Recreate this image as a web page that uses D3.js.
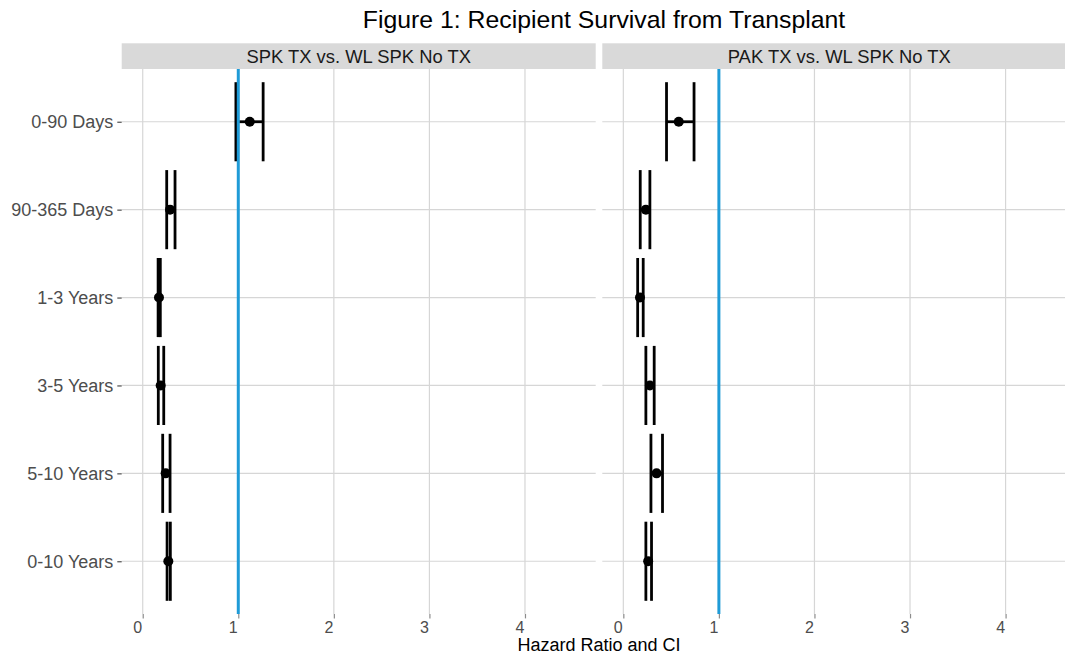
<!DOCTYPE html>
<html>
<head>
<meta charset="utf-8">
<script src="https://cdn.jsdelivr.net/npm/d3@7"></script>
<style>
  body { margin: 0; background: #fff; }
  text { font-family: "Liberation Sans", Arial, sans-serif; }
</style>
</head>
<body>
<svg width="1065" height="656"></svg>
<script>
(function(d3) {
    'use strict';

    // data
    const periods = ['0-90 Days', '90-365 Days', '1-3 Years', '3-5 Years', '5-10 Years', '0-10 Years'];
    const panelNames = ['SPK TX vs. WL SPK No TX', 'PAK TX vs. WL SPK No TX'];
    const spkHR   = [1.12, 0.286, 0.17, 0.188, 0.24, 0.268];
    const spkLow  = [0.975, 0.251, 0.161, 0.163, 0.209, 0.255];
    const spkHigh = [1.26, 0.338, 0.184, 0.22, 0.286, 0.289];
    const pakHR   = [0.58, 0.236, 0.174, 0.278, 0.348, 0.26];
    const pakLow  = [0.452, 0.177, 0.15, 0.236, 0.289, 0.236];
    const pakHigh = [0.74, 0.278, 0.208, 0.323, 0.41, 0.295];
    const xTicks = [0, 1, 2, 3, 4];
    const refLine = 1;

    const panels = [
        { name: panelNames[0], rows: periods.map((p, i) => ({ period: p, hr: spkHR[i], lo: spkLow[i], hi: spkHigh[i] })) },
        { name: panelNames[1], rows: periods.map((p, i) => ({ period: p, hr: pakHR[i], lo: pakLow[i], hi: pakHigh[i] })) }
    ];

    const svg = d3.select('svg');

    const panelW = 474, panelH = 545;
    const panelTop = 69, stripH = 25.7;
    const panelLefts = [121.7, 602.3];

    const x = d3.scaleLinear().domain([-0.22, 4.74]).range([0, panelW]);
    const y = d3.scalePoint().domain(periods).range([0, panelH]).padding(0.6);
    const capH = y.step() * 0.45;

    // title
    svg.append('text')
        .attr('x', 604)
        .attr('y', 28)
        .attr('text-anchor', 'middle')
        .style('font-size', '24.8px')
        .attr('fill', '#000')
        .text('Figure 1: Recipient Survival from Transplant');

    panels.forEach((panel, pi) => {
        const g = svg.append('g')
            .attr('transform', `translate(${panelLefts[pi]},${panelTop})`);

        // strip
        g.append('rect')
            .attr('x', 0)
            .attr('y', -stripH)
            .attr('width', panelW)
            .attr('height', stripH)
            .attr('fill', '#d9d9d9');
        g.append('text')
            .attr('x', panelW / 2)
            .attr('y', -stripH / 2)
            .attr('dy', '0.35em')
            .attr('text-anchor', 'middle')
            .style('font-size', '18.4px')
            .attr('fill', '#1a1a1a')
            .text(panel.name);

        // grid
        g.selectAll('.vgrid').data(xTicks)
            .enter().append('line')
            .attr('class', 'vgrid')
            .attr('x1', d => x(d)).attr('x2', d => x(d))
            .attr('y1', 0).attr('y2', panelH)
            .attr('stroke', '#d6d6d6')
            .attr('stroke-width', 1.2);
        g.selectAll('.hgrid').data(periods)
            .enter().append('line')
            .attr('class', 'hgrid')
            .attr('x1', 0).attr('x2', panelW)
            .attr('y1', d => y(d)).attr('y2', d => y(d))
            .attr('stroke', '#d6d6d6')
            .attr('stroke-width', 1.2);

        // x axis ticks + labels
        const xAxis = g.append('g')
            .attr('transform', `translate(0,${panelH})`)
            .call(d3.axisBottom(x).tickValues(xTicks).tickSize(4.4).tickPadding(3).tickFormat(d3.format('d')));
        xAxis.select('.domain').remove();
        xAxis.selectAll('line').attr('stroke', '#8c8c8c').attr('stroke-width', 1.2);
        xAxis.selectAll('text')
            .attr('dx', -5.5)
            .attr('fill', '#4d4d4d')
            .style('font-size', '16px');

        // y axis only on first panel
        if (pi === 0) {
            const yAxis = g.append('g')
                .call(d3.axisLeft(y).tickSize(4.4).tickPadding(4));
            yAxis.select('.domain').remove();
            yAxis.selectAll('line').attr('stroke', '#4d4d4d').attr('stroke-width', 1.2);
            yAxis.selectAll('text')
                .attr('fill', '#4d4d4d')
                .style('font-size', '18px');
        }

        // error bars
        const bars = g.selectAll('.bar').data(panel.rows)
            .enter().append('g')
            .attr('class', 'bar');
        bars.append('line')
            .attr('x1', d => x(d.lo)).attr('x2', d => x(d.hi))
            .attr('y1', d => y(d.period)).attr('y2', d => y(d.period))
            .attr('stroke', '#000').attr('stroke-width', 2.8);
        bars.append('line')
            .attr('x1', d => x(d.lo)).attr('x2', d => x(d.lo))
            .attr('y1', d => y(d.period) - capH).attr('y2', d => y(d.period) + capH)
            .attr('stroke', '#000').attr('stroke-width', 2.8);
        bars.append('line')
            .attr('x1', d => x(d.hi)).attr('x2', d => x(d.hi))
            .attr('y1', d => y(d.period) - capH).attr('y2', d => y(d.period) + capH)
            .attr('stroke', '#000').attr('stroke-width', 2.8);
        bars.append('circle')
            .attr('cx', d => x(d.hr))
            .attr('cy', d => y(d.period))
            .attr('r', 5)
            .attr('fill', '#000');

        // reference line
        g.append('line')
            .attr('x1', x(refLine)).attr('x2', x(refLine))
            .attr('y1', 0).attr('y2', panelH)
            .attr('stroke', '#1f9bd7')
            .attr('stroke-width', 3);
    });

    // x axis title
    svg.append('text')
        .attr('x', 599)
        .attr('y', 651)
        .attr('text-anchor', 'middle')
        .style('font-size', '18px')
        .attr('fill', '#000')
        .text('Hazard Ratio and CI');

}(d3));
</script>
</body>
</html>
